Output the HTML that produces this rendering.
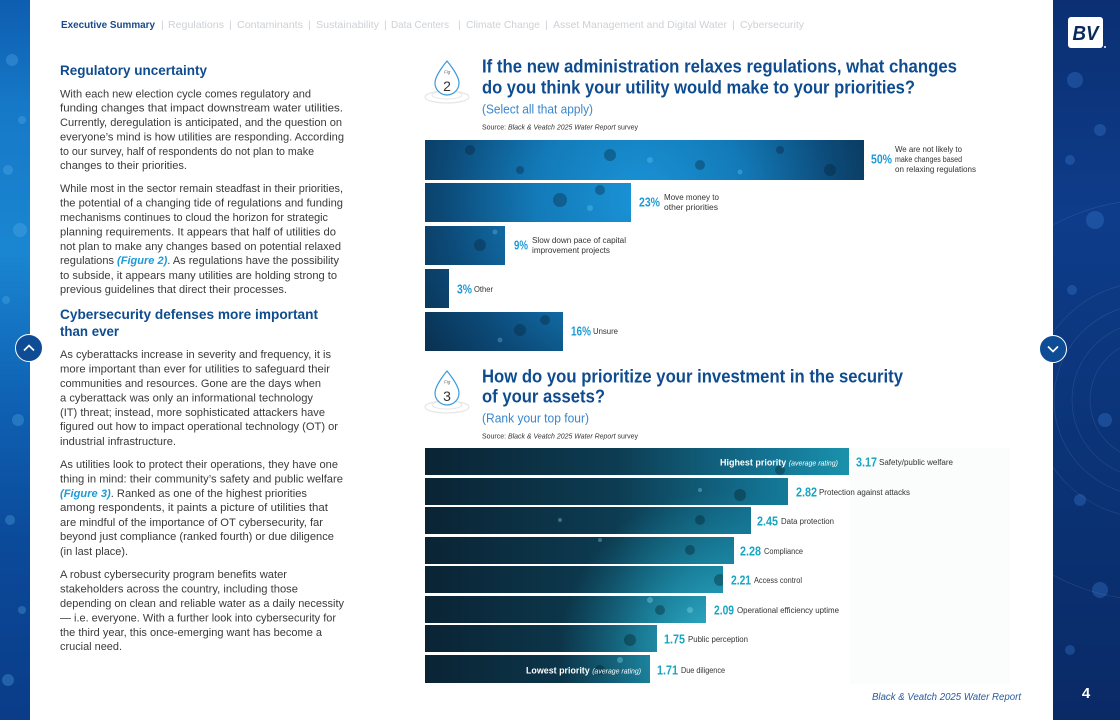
<!DOCTYPE html>
<html><head><meta charset="utf-8">
<style>
html,body{margin:0;padding:0;background:#fff;}
svg{display:block;}
text{font-family:"Liberation Sans",Arial,sans-serif;}
</style></head>
<body>
<svg width="1120" height="720" viewBox="0 0 1120 720" xmlns="http://www.w3.org/2000/svg">
<defs>
  <linearGradient id="lstrip" x1="0" y1="0" x2="0" y2="1">
    <stop offset="0" stop-color="#0e5db0"/>
    <stop offset="0.15" stop-color="#1679c8"/>
    <stop offset="0.35" stop-color="#1a86d2"/>
    <stop offset="0.55" stop-color="#0f62b4"/>
    <stop offset="0.75" stop-color="#0b4a9a"/>
    <stop offset="1" stop-color="#0a3c88"/>
  </linearGradient>
  <linearGradient id="rstrip" x1="0" y1="0" x2="0" y2="1">
    <stop offset="0" stop-color="#0b2f72"/>
    <stop offset="0.3" stop-color="#0e3c8a"/>
    <stop offset="0.6" stop-color="#0b3478"/>
    <stop offset="1" stop-color="#0a2a66"/>
  </linearGradient>
  <radialGradient id="f2g" gradientUnits="userSpaceOnUse" cx="640" cy="200" r="300">
    <stop offset="0" stop-color="#1a94d8"/>
    <stop offset="0.35" stop-color="#137ab8"/>
    <stop offset="0.65" stop-color="#0c4a78"/>
    <stop offset="1" stop-color="#08223a"/>
  </radialGradient>
  <linearGradient id="f3lin" gradientUnits="userSpaceOnUse" x1="425" y1="0" x2="850" y2="0">
    <stop offset="0" stop-color="#0a2434"/>
    <stop offset="0.45" stop-color="#0d3c52"/>
    <stop offset="0.8" stop-color="#137292"/>
    <stop offset="1" stop-color="#1a92ac"/>
  </linearGradient>
  <radialGradient id="f3rad" gradientUnits="userSpaceOnUse" cx="720" cy="650" r="160">
    <stop offset="0" stop-color="#3cc4dc" stop-opacity="0.9"/>
    <stop offset="0.5" stop-color="#22a0bc" stop-opacity="0.6"/>
    <stop offset="1" stop-color="#1a90aa" stop-opacity="0"/>
  </radialGradient>
  <clipPath id="c2">
    <rect x="425" y="140" width="439" height="40"/>
    <rect x="425" y="183" width="206" height="39"/>
    <rect x="425" y="226" width="80" height="39"/>
    <rect x="425" y="269" width="24" height="39"/>
    <rect x="425" y="312" width="138" height="39"/>
  </clipPath>
  <clipPath id="c3">
    <rect x="425" y="448" width="424" height="27"/>
    <rect x="425" y="478" width="363" height="27"/>
    <rect x="425" y="507" width="326" height="27"/>
    <rect x="425" y="537" width="309" height="27"/>
    <rect x="425" y="566" width="298" height="27"/>
    <rect x="425" y="596" width="281" height="27"/>
    <rect x="425" y="625" width="232" height="27"/>
    <rect x="425" y="655" width="225" height="28"/>
  </clipPath>
</defs>

<!-- left strip -->
<rect x="0" y="0" width="30" height="720" fill="url(#lstrip)"/>
<g fill="#5fb4ec" opacity="0.3">
  <circle cx="12" cy="60" r="6"/><circle cx="22" cy="120" r="4"/><circle cx="8" cy="170" r="5"/>
  <circle cx="20" cy="230" r="7"/><circle cx="6" cy="300" r="4"/><circle cx="18" cy="420" r="6"/>
  <circle cx="10" cy="520" r="5"/><circle cx="22" cy="610" r="4"/><circle cx="8" cy="680" r="6"/>
</g>
<!-- right strip -->
<rect x="1053" y="0" width="67" height="720" fill="url(#rstrip)"/>
<g fill="#3a7ad0" opacity="0.35">
  <circle cx="1075" cy="80" r="8"/><circle cx="1100" cy="130" r="6"/><circle cx="1070" cy="160" r="5"/>
  <circle cx="1095" cy="220" r="9"/><circle cx="1072" cy="290" r="5"/><circle cx="1105" cy="420" r="7"/>
  <circle cx="1080" cy="500" r="6"/><circle cx="1100" cy="590" r="8"/><circle cx="1070" cy="650" r="5"/>
</g>
<g fill="none" stroke="#ffffff" stroke-opacity="0.1" stroke-width="0.7">
  <circle cx="1150" cy="400" r="60"/><circle cx="1150" cy="400" r="78"/>
  <circle cx="1150" cy="400" r="96"/><circle cx="1150" cy="400" r="118"/>
  <circle cx="1150" cy="400" r="200"/>
</g>

<!-- logo -->
<rect x="1068" y="17" width="35" height="31" rx="3" fill="#ffffff"/>
<text x="1085.5" y="40" font-size="20" font-weight="bold" font-style="italic" fill="#0b2a5c" text-anchor="middle" textLength="26" lengthAdjust="spacingAndGlyphs">BV</text>
<circle cx="1105" cy="47" r="1" fill="#fff"/>

<!-- nav buttons -->
<circle cx="29" cy="348" r="13.5" fill="#0f4c96" stroke="#fff" stroke-width="1"/>
<polyline points="24,350.5 29,345.5 34,350.5" fill="none" stroke="#fff" stroke-width="1.6"/>
<circle cx="1053" cy="349" r="13.5" fill="#0f4c96" stroke="#fff" stroke-width="1"/>
<polyline points="1048,346.5 1053,351.5 1058,346.5" fill="none" stroke="#fff" stroke-width="1.6"/>

<!-- top nav -->
<g font-size="10.5">
  <text x="61" y="28" font-weight="bold" fill="#1a4a8c" textLength="94" lengthAdjust="spacingAndGlyphs">Executive Summary</text>
  <g fill="#cdd1d6">
    <text x="161" y="28">|</text>
    <text x="168" y="28" textLength="56" lengthAdjust="spacingAndGlyphs">Regulations</text>
    <text x="229" y="28">|</text>
    <text x="237" y="28" textLength="66" lengthAdjust="spacingAndGlyphs">Contaminants</text>
    <text x="308" y="28">|</text>
    <text x="316" y="28" textLength="63" lengthAdjust="spacingAndGlyphs">Sustainability</text>
    <text x="384" y="28">|</text>
    <text x="391" y="28" textLength="58" lengthAdjust="spacingAndGlyphs">Data Centers</text>
    <text x="458" y="28">|</text>
    <text x="466" y="28" textLength="74" lengthAdjust="spacingAndGlyphs">Climate Change</text>
    <text x="545" y="28">|</text>
    <text x="553" y="28" textLength="174" lengthAdjust="spacingAndGlyphs">Asset Management and Digital Water</text>
    <text x="732" y="28">|</text>
    <text x="740" y="28" textLength="64" lengthAdjust="spacingAndGlyphs">Cybersecurity</text>
  </g>
</g>

<!-- left column -->
<g fill="#0f4c8f" font-weight="bold" font-size="14">
  <text x="60" y="75" textLength="147" lengthAdjust="spacingAndGlyphs">Regulatory uncertainty</text>
  <text x="60" y="319" textLength="258" lengthAdjust="spacingAndGlyphs">Cybersecurity defenses more important</text>
  <text x="60" y="336" textLength="59" lengthAdjust="spacingAndGlyphs">than ever</text>
</g>
<g fill="#3a3a3a" font-size="11">
  <text x="60" y="97.3" textLength="251" lengthAdjust="spacingAndGlyphs">With each new election cycle comes regulatory and</text>
  <text x="60" y="111.7" textLength="283" lengthAdjust="spacingAndGlyphs">funding changes that impact downstream water utilities.</text>
  <text x="60" y="126" textLength="282" lengthAdjust="spacingAndGlyphs">Currently, deregulation is anticipated, and the question on</text>
  <text x="60" y="140.5" textLength="284" lengthAdjust="spacingAndGlyphs">everyone’s mind is how utilities are responding. According</text>
  <text x="60" y="155" textLength="254" lengthAdjust="spacingAndGlyphs">to our survey, half of respondents do not plan to make</text>
  <text x="60" y="169" textLength="127" lengthAdjust="spacingAndGlyphs">changes to their priorities.</text>

  <text x="60" y="192" textLength="283" lengthAdjust="spacingAndGlyphs">While most in the sector remain steadfast in their priorities,</text>
  <text x="60" y="206.5" textLength="283" lengthAdjust="spacingAndGlyphs">the potential of a changing tide of regulations and funding</text>
  <text x="60" y="221" textLength="268" lengthAdjust="spacingAndGlyphs">mechanisms continues to cloud the horizon for strategic</text>
  <text x="60" y="235.5" textLength="276" lengthAdjust="spacingAndGlyphs">planning requirements. It appears that half of utilities do</text>
  <text x="60" y="250" textLength="281" lengthAdjust="spacingAndGlyphs">not plan to make any changes based on potential relaxed</text>
  <text x="60" y="264" textLength="279" lengthAdjust="spacingAndGlyphs">regulations <tspan fill="#1e9ad8" font-weight="bold" font-style="italic">(Figure 2)</tspan>. As regulations have the possibility</text>
  <text x="60" y="279" textLength="277" lengthAdjust="spacingAndGlyphs">to subside, it appears many utilities are holding strong to</text>
  <text x="60" y="293" textLength="227" lengthAdjust="spacingAndGlyphs">previous guidelines that direct their processes.</text>

  <text x="60" y="358" textLength="271" lengthAdjust="spacingAndGlyphs">As cyberattacks increase in severity and frequency, it is</text>
  <text x="60" y="372.5" textLength="270" lengthAdjust="spacingAndGlyphs">more important than ever for utilities to safeguard their</text>
  <text x="60" y="387" textLength="261" lengthAdjust="spacingAndGlyphs">communities and resources. Gone are the days when</text>
  <text x="60" y="401.5" textLength="253" lengthAdjust="spacingAndGlyphs">a cyberattack was only an informational technology</text>
  <text x="60" y="416" textLength="265" lengthAdjust="spacingAndGlyphs">(IT) threat; instead, more sophisticated attackers have</text>
  <text x="60" y="430" textLength="278" lengthAdjust="spacingAndGlyphs">figured out how to impact operational technology (OT) or</text>
  <text x="60" y="445" textLength="116" lengthAdjust="spacingAndGlyphs">industrial infrastructure.</text>

  <text x="60" y="468" textLength="278" lengthAdjust="spacingAndGlyphs">As utilities look to protect their operations, they have one</text>
  <text x="60" y="482.5" textLength="283" lengthAdjust="spacingAndGlyphs">thing in mind: their community’s safety and public welfare</text>
  <text x="60" y="497" textLength="247" lengthAdjust="spacingAndGlyphs"><tspan fill="#1e9ad8" font-weight="bold" font-style="italic">(Figure 3)</tspan>. Ranked as one of the highest priorities</text>
  <text x="60" y="511" textLength="268" lengthAdjust="spacingAndGlyphs">among respondents, it paints a picture of utilities that</text>
  <text x="60" y="526" textLength="263" lengthAdjust="spacingAndGlyphs">are mindful of the importance of OT cybersecurity, far</text>
  <text x="60" y="540" textLength="274" lengthAdjust="spacingAndGlyphs">beyond just compliance (ranked fourth) or due diligence</text>
  <text x="60" y="555" textLength="68" lengthAdjust="spacingAndGlyphs">(in last place).</text>

  <text x="60" y="578" textLength="227" lengthAdjust="spacingAndGlyphs">A robust cybersecurity program benefits water</text>
  <text x="60" y="592.5" textLength="238" lengthAdjust="spacingAndGlyphs">stakeholders across the country, including those</text>
  <text x="60" y="607" textLength="284" lengthAdjust="spacingAndGlyphs">depending on clean and reliable water as a daily necessity</text>
  <text x="60" y="621.5" textLength="276" lengthAdjust="spacingAndGlyphs">— i.e. everyone. With a further look into cybersecurity for</text>
  <text x="60" y="636" textLength="262" lengthAdjust="spacingAndGlyphs">the third year, this once-emerging want has become a</text>
  <text x="60" y="650" textLength="62" lengthAdjust="spacingAndGlyphs">crucial need.</text>
</g>

<!-- FIG 2 icon -->
<g>
  <ellipse cx="447" cy="97" rx="22" ry="6" fill="none" stroke="#e6e6e6" stroke-width="1.2"/>
  <ellipse cx="447" cy="95" rx="15" ry="4" fill="none" stroke="#e6e6e6" stroke-width="1"/>
  <path d="M447,61 C447,61 435,75 435,83 A12,12 0 0 0 459,83 C459,75 447,61 447,61 Z" fill="#fff" stroke="#3a9ad8" stroke-width="1.2"/>
  <text x="444" y="73.5" font-size="4.5" font-style="italic" fill="#666">Fig</text>
  <text x="447" y="91" font-size="14" fill="#333" text-anchor="middle">2</text>
</g>
<g fill="#0f4c8f" font-weight="bold" font-size="18">
  <text x="482" y="72.5" textLength="475" lengthAdjust="spacingAndGlyphs">If the new administration relaxes regulations, what changes</text>
  <text x="482" y="93.5" textLength="433" lengthAdjust="spacingAndGlyphs">do you think your utility would make to your priorities?</text>
</g>
<text x="482" y="113.5" font-size="13" fill="#3a86cc" textLength="111" lengthAdjust="spacingAndGlyphs">(Select all that apply)</text>
<text x="482" y="129.5" font-size="7" fill="#333" textLength="156" lengthAdjust="spacingAndGlyphs">Source: <tspan font-style="italic">Black &amp; Veatch 2025 Water Report</tspan> survey</text>

<!-- FIG 2 bars -->
<g clip-path="url(#c2)">
  <rect x="425" y="140" width="440" height="212" fill="url(#f2g)"/>
  <g fill="#062034" opacity="0.35">
    <circle cx="470" cy="150" r="5"/><circle cx="520" cy="170" r="4"/><circle cx="610" cy="155" r="6"/>
    <circle cx="700" cy="165" r="5"/><circle cx="780" cy="150" r="4"/><circle cx="830" cy="170" r="6"/>
    <circle cx="560" cy="200" r="7"/><circle cx="600" cy="190" r="5"/><circle cx="480" cy="245" r="6"/>
    <circle cx="520" cy="330" r="6"/><circle cx="545" cy="320" r="5"/>
  </g>
  <g fill="#7fd0f4" opacity="0.3">
    <circle cx="650" cy="160" r="3"/><circle cx="740" cy="172" r="2.5"/><circle cx="590" cy="208" r="3"/>
    <circle cx="495" cy="232" r="2.5"/><circle cx="500" cy="340" r="2.5"/>
  </g>
</g>
<g font-weight="bold" fill="#1e9bd7" font-size="13">
  <text x="871" y="163.5" textLength="21" lengthAdjust="spacingAndGlyphs">50%</text>
  <text x="639" y="206.5" textLength="21" lengthAdjust="spacingAndGlyphs">23%</text>
  <text x="514" y="249.5" textLength="14" lengthAdjust="spacingAndGlyphs">9%</text>
  <text x="457" y="293.5" textLength="15" lengthAdjust="spacingAndGlyphs">3%</text>
  <text x="571" y="335.5" textLength="20" lengthAdjust="spacingAndGlyphs">16%</text>
</g>
<g font-size="8" fill="#333">
  <text x="895" y="152" textLength="67" lengthAdjust="spacingAndGlyphs">We are not likely to</text>
  <text x="895" y="162" textLength="67" lengthAdjust="spacingAndGlyphs">make changes based</text>
  <text x="895" y="172" textLength="81" lengthAdjust="spacingAndGlyphs">on relaxing regulations</text>
  <text x="664" y="200" textLength="55" lengthAdjust="spacingAndGlyphs">Move money to</text>
  <text x="664" y="210" textLength="54" lengthAdjust="spacingAndGlyphs">other priorities</text>
  <text x="532" y="243" textLength="94" lengthAdjust="spacingAndGlyphs">Slow down pace of capital</text>
  <text x="532" y="253" textLength="78" lengthAdjust="spacingAndGlyphs">improvement projects</text>
  <text x="474" y="292" textLength="19" lengthAdjust="spacingAndGlyphs">Other</text>
  <text x="593" y="334" textLength="25" lengthAdjust="spacingAndGlyphs">Unsure</text>
</g>

<!-- FIG 3 icon -->
<g transform="translate(0,310)">
  <ellipse cx="447" cy="97" rx="22" ry="6" fill="none" stroke="#e6e6e6" stroke-width="1.2"/>
  <ellipse cx="447" cy="95" rx="15" ry="4" fill="none" stroke="#e6e6e6" stroke-width="1"/>
  <path d="M447,61 C447,61 435,75 435,83 A12,12 0 0 0 459,83 C459,75 447,61 447,61 Z" fill="#fff" stroke="#3a9ad8" stroke-width="1.2"/>
  <text x="444" y="73.5" font-size="4.5" font-style="italic" fill="#666">Fig</text>
  <text x="447" y="91" font-size="14" fill="#333" text-anchor="middle">3</text>
</g>
<g fill="#0f4c8f" font-weight="bold" font-size="18">
  <text x="482" y="382.5" textLength="421" lengthAdjust="spacingAndGlyphs">How do you prioritize your investment in the security</text>
  <text x="482" y="402.5" textLength="123" lengthAdjust="spacingAndGlyphs">of your assets?</text>
</g>
<text x="482" y="422.5" font-size="13" fill="#3a86cc" textLength="107" lengthAdjust="spacingAndGlyphs">(Rank your top four)</text>
<text x="482" y="438.5" font-size="7" fill="#333" textLength="156" lengthAdjust="spacingAndGlyphs">Source: <tspan font-style="italic">Black &amp; Veatch 2025 Water Report</tspan> survey</text>

<!-- faint background behind fig3 -->
<rect x="850" y="448" width="160" height="236" fill="#fbfcfc"/>

<!-- FIG 3 bars -->
<g clip-path="url(#c3)">
  <rect x="425" y="448" width="425" height="236" fill="url(#f3lin)"/>
  <rect x="425" y="448" width="425" height="236" fill="url(#f3rad)"/>
  <g fill="#051820" opacity="0.35">
    <circle cx="780" cy="470" r="5"/><circle cx="740" cy="495" r="6"/><circle cx="700" cy="520" r="5"/>
    <circle cx="690" cy="550" r="5"/><circle cx="720" cy="580" r="6"/><circle cx="660" cy="610" r="5"/>
    <circle cx="630" cy="640" r="6"/><circle cx="600" cy="670" r="5"/>
  </g>
  <g fill="#8fe4f4" opacity="0.35">
    <circle cx="560" cy="520" r="2"/><circle cx="600" cy="540" r="2"/><circle cx="650" cy="600" r="3"/>
    <circle cx="690" cy="610" r="3"/><circle cx="620" cy="660" r="3"/><circle cx="700" cy="490" r="2"/>
  </g>
</g>
<text x="720" y="465.5" fill="#fff" font-size="9" font-weight="bold" textLength="118" lengthAdjust="spacingAndGlyphs">Highest priority <tspan font-weight="normal" font-style="italic" font-size="7">(average rating)</tspan></text>
<text x="526" y="673.5" fill="#fff" font-size="9" font-weight="bold" textLength="115" lengthAdjust="spacingAndGlyphs">Lowest priority <tspan font-weight="normal" font-style="italic" font-size="7">(average rating)</tspan></text>

<g font-weight="bold" fill="#18a6c2" font-size="13">
  <text x="856" y="466.5" textLength="21" lengthAdjust="spacingAndGlyphs">3.17</text>
  <text x="796" y="496.5" textLength="21" lengthAdjust="spacingAndGlyphs">2.82</text>
  <text x="757" y="525.5" textLength="21" lengthAdjust="spacingAndGlyphs">2.45</text>
  <text x="740" y="555.5" textLength="21" lengthAdjust="spacingAndGlyphs">2.28</text>
  <text x="731" y="584.5" textLength="20" lengthAdjust="spacingAndGlyphs">2.21</text>
  <text x="714" y="614.5" textLength="20" lengthAdjust="spacingAndGlyphs">2.09</text>
  <text x="664" y="643.5" textLength="21" lengthAdjust="spacingAndGlyphs">1.75</text>
  <text x="657" y="674.5" textLength="21" lengthAdjust="spacingAndGlyphs">1.71</text>
</g>
<g font-size="8" fill="#333">
  <text x="879" y="465" textLength="74" lengthAdjust="spacingAndGlyphs">Safety/public welfare</text>
  <text x="819" y="495" textLength="91" lengthAdjust="spacingAndGlyphs">Protection against attacks</text>
  <text x="781" y="524" textLength="53" lengthAdjust="spacingAndGlyphs">Data protection</text>
  <text x="764" y="554" textLength="39" lengthAdjust="spacingAndGlyphs">Compliance</text>
  <text x="754" y="583" textLength="48" lengthAdjust="spacingAndGlyphs">Access control</text>
  <text x="737" y="613" textLength="102" lengthAdjust="spacingAndGlyphs">Operational efficiency uptime</text>
  <text x="688" y="642" textLength="60" lengthAdjust="spacingAndGlyphs">Public perception</text>
  <text x="681" y="673" textLength="44" lengthAdjust="spacingAndGlyphs">Due diligence</text>
</g>

<!-- footer -->
<text x="872" y="700" font-size="10" font-style="italic" fill="#2a5aa0" textLength="149" lengthAdjust="spacingAndGlyphs">Black &amp; Veatch 2025 Water Report</text>
<text x="1086" y="698" font-size="15" font-weight="bold" fill="#fff" text-anchor="middle">4</text>
</svg>
</body></html>
